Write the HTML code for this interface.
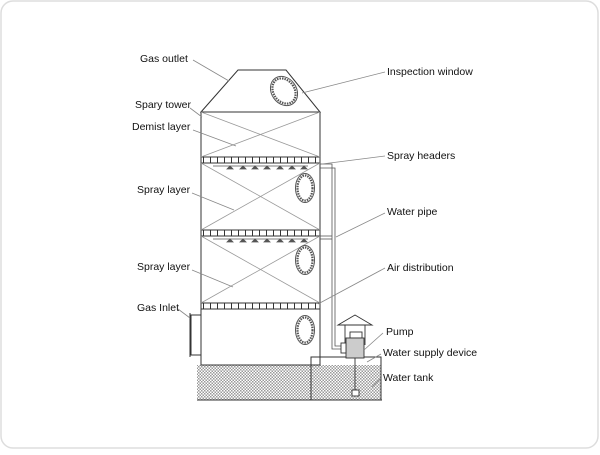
<!DOCTYPE html>
<html><head><style>
html,body{margin:0;padding:0;background:#fff;}
body{width:600px;height:450px;overflow:hidden;}
svg text{font-family:"Liberation Sans",sans-serif;font-size:10.5px;fill:#111;}
</style></head><body>
<svg width="600" height="450" viewBox="0 0 600 450">
<defs>
<pattern id="dots" width="3" height="3" patternUnits="userSpaceOnUse">
<rect width="3" height="3" fill="#fff"/><rect width="1.5" height="1.5" fill="#555"/><rect x="1.5" y="1.5" width="1.5" height="1.5" fill="#555"/>
</pattern>
<pattern id="bar" width="7" height="6" patternUnits="userSpaceOnUse">
<rect width="7" height="6" fill="#fff"/><rect x="0" y="0" width="1" height="6" fill="#333"/>
</pattern>
</defs>
<rect x="1" y="1" width="597" height="447" rx="12" fill="#fff" stroke="#ddd" stroke-width="1.5"/>
<rect x="197" y="365" width="184" height="35" fill="url(#dots)" opacity="0.6"/>
<line x1="197" y1="400" x2="382" y2="400" stroke="#333"/>
<g stroke="#333" stroke-width="1" fill="none">
<polygon points="201,112 238,70 286,70 320,112" fill="#fff"/>
<rect x="201" y="112" width="119" height="253" fill="none"/>
<rect x="201" y="157" width="119" height="6" fill="url(#bar)"/>
<rect x="201" y="230" width="119" height="6" fill="url(#bar)"/>
<rect x="201" y="303" width="119" height="6" fill="url(#bar)"/>
<rect x="191" y="315" width="10" height="40" fill="#fff"/>
<line x1="190" y1="313" x2="190" y2="357"/>
<rect x="311" y="357" width="70" height="43"/>
</g>
<g stroke="#999" stroke-width="0.8">
<line x1="201" y1="112" x2="320" y2="157"/><line x1="201" y1="157" x2="320" y2="112"/>
<line x1="201" y1="163" x2="320" y2="230"/><line x1="201" y1="230" x2="320" y2="163"/>
<line x1="201" y1="236" x2="320" y2="303"/><line x1="201" y1="303" x2="320" y2="236"/>
</g>
<g fill="#555" stroke="#555" stroke-width="0.8">
<line x1="213" y1="166" x2="308" y2="166"/>
<line x1="213" y1="239" x2="308" y2="239"/>
<path d="M227,169 l3,-3 l3,3z M240,169 l3,-3 l3,3z M252,169 l3,-3 l3,3z M264,169 l3,-3 l3,3z M277,169 l3,-3 l3,3z M289,169 l3,-3 l3,3z M301,169 l3,-3 l3,3z"/>
<path d="M227,242 l3,-3 l3,3z M240,242 l3,-3 l3,3z M252,242 l3,-3 l3,3z M264,242 l3,-3 l3,3z M277,242 l3,-3 l3,3z M289,242 l3,-3 l3,3z M301,242 l3,-3 l3,3z"/>
</g>
<g fill="none" stroke="#555" stroke-width="1">
<ellipse cx="284" cy="91" rx="12.5" ry="15.5" transform="rotate(-35 284 91)"/>
<ellipse cx="305" cy="188" rx="9.5" ry="14.5"/>
<ellipse cx="305" cy="260" rx="9.5" ry="14.5"/>
<ellipse cx="305" cy="330" rx="9.5" ry="14.5"/>
</g>
<g fill="none" stroke="#555" stroke-width="2.2" stroke-dasharray="1.5 1">
<ellipse cx="284" cy="91" rx="10.5" ry="13.5" transform="rotate(-35 284 91)"/>
<ellipse cx="305" cy="188" rx="7.5" ry="12.5"/>
<ellipse cx="305" cy="260" rx="7.5" ry="12.5"/>
<ellipse cx="305" cy="330" rx="7.5" ry="12.5"/>
</g>
<g fill="none" stroke="#555" stroke-width="0.8">
<polyline points="320,164 332,164 332,349 345,349"/>
<polyline points="320,168 335,168 335,346 345,346"/>
<line x1="320" y1="236" x2="332" y2="236"/>
<line x1="320" y1="239" x2="332" y2="239"/>
</g>
<g stroke="#333" stroke-width="0.9" fill="#fff">
<polygon points="338,325 355,315 372,325"/>
<line x1="345" y1="325" x2="345" y2="345"/><line x1="365" y1="325" x2="365" y2="345"/>
<rect x="350" y="332" width="12" height="6"/>
<rect x="346" y="338" width="18" height="20" fill="#ccc"/>
<rect x="341" y="343" width="5" height="10"/>
<line x1="355" y1="358" x2="355" y2="392"/>
<rect x="352" y="390" width="7" height="6"/>
</g>
<g stroke="#888" stroke-width="0.8">
<line x1="193" y1="60" x2="229" y2="81"/>
<line x1="385" y1="72" x2="302" y2="93"/>
<line x1="190" y1="108" x2="202" y2="117"/>
<line x1="193" y1="130" x2="236" y2="146"/>
<line x1="192" y1="193" x2="234" y2="210"/>
<line x1="192" y1="270" x2="233" y2="287"/>
<line x1="178" y1="309" x2="190" y2="318"/>
<line x1="385" y1="156" x2="322" y2="164"/>
<line x1="385" y1="213" x2="336" y2="237"/>
<line x1="385" y1="268" x2="318" y2="304"/>
<line x1="383" y1="333" x2="364" y2="350"/>
<line x1="381" y1="354" x2="367" y2="362"/>
<line x1="381" y1="378" x2="372" y2="387"/>
</g>
<text x="140" y="62">Gas outlet</text>
<text x="135" y="108">Spary tower</text>
<text x="132" y="130">Demist layer</text>
<text x="137" y="193">Spray layer</text>
<text x="137" y="270">Spray layer</text>
<text x="137" y="311">Gas Inlet</text>
<text x="387" y="75">Inspection window</text>
<text x="387" y="159">Spray headers</text>
<text x="387" y="215">Water pipe</text>
<text x="387" y="271">Air distribution</text>
<text x="386" y="335">Pump</text>
<text x="383" y="356">Water supply device</text>
<text x="383" y="381">Water tank</text>
</svg>
</body></html>
